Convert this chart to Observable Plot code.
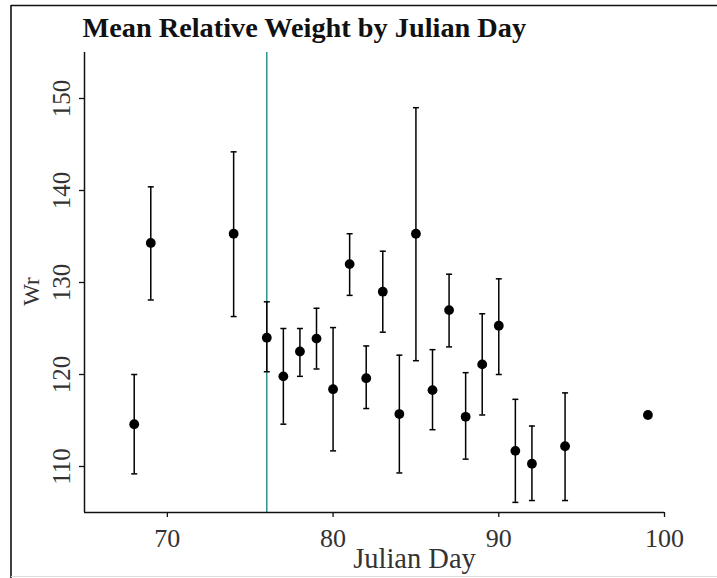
<!DOCTYPE html>
<html>
<head>
<meta charset="utf-8">
<script src="https://cdn.jsdelivr.net/npm/d3@7"></script>
<script src="https://cdn.jsdelivr.net/npm/@observablehq/plot@0.6"></script>
<style>
  html, body { margin: 0; padding: 0; background: #fff; }
  #chart svg { display: block; }
</style>
</head>
<body>
<div id="chart"></div>
<script>
// ---- data ----
const days  = [68, 69, 74, 76, 77, 78, 79, 80, 81, 82, 83, 84, 85, 86, 87, 88, 89, 90, 91, 92, 94, 99];
const means = [114.6, 134.3, 135.3, 124.0, 119.8, 122.5, 123.9, 118.4, 132.0, 119.6, 129.0, 115.7, 135.3, 118.3, 127.0, 115.4, 121.1, 125.3, 111.7, 110.3, 112.2, 115.6];
const lows  = [109.2, 128.1, 126.3, 120.3, 114.6, 119.8, 120.6, 111.7, 128.6, 116.3, 124.6, 109.3, 121.5, 114.0, 123.0, 110.8, 115.6, 120.0, 106.1, 106.3, 106.3, null];
const highs = [120.0, 140.4, 144.2, 127.9, 125.0, 125.0, 127.2, 125.1, 135.3, 123.1, 133.4, 122.1, 149.0, 122.7, 130.9, 120.2, 126.6, 130.4, 117.3, 114.4, 118.0, null];
const refDay = [76];
const xTicks = [70, 80, 90, 100];
const yTicks = [110, 120, 130, 140, 150];
const xDomain = [65, 100];
const yDomain = [105, 155];
const titleText = "Mean Relative Weight by Julian Day";
const xLabel = "Julian Day";
const yLabel = "Wr";

const rows = days.map((d, i) => ({day: d, mean: means[i], lo: lows[i], hi: highs[i]}));
const withErr = rows.filter(r => r.lo != null && r.hi != null);

const serif = "'Liberation Serif', 'Times New Roman', serif";
const capSymbol = {draw(ctx) { ctx.moveTo(-3, 0); ctx.lineTo(3, 0); }};

const plot = Plot.plot({
  width: 717,
  height: 578,
  marginLeft: 84,
  marginRight: 53,
  marginTop: 52,
  marginBottom: 66,
  style: {fontFamily: serif, background: "#fff", color: "#222", overflow: "visible"},
  x: {domain: xDomain},
  y: {domain: yDomain},
  marks: [
    // reference line
    Plot.ruleX(refDay, {x: d => d, y1: yDomain[0], y2: yDomain[1], stroke: "#1f8c8c", strokeWidth: 1.4}),
    // axis lines (L box)
    Plot.ruleX([xDomain[0]], {x: d => d, y1: yDomain[0], y2: yDomain[1], stroke: "#111", strokeWidth: 1.5}),
    Plot.ruleY([yDomain[0]], {y: d => d, x1: xDomain[0], x2: xDomain[1], stroke: "#111", strokeWidth: 1.5}),
    Plot.axisX({ticks: xTicks, tickSize: 5, tickPadding: 11, fontSize: 26, label: null, stroke: "#111", strokeWidth: 1.3, fill: "#333"}),
    Plot.axisY({ticks: yTicks, tickSize: 5, tickPadding: 10, tickRotate: -90, fontSize: 25, label: null, stroke: "#111", strokeWidth: 1.3, fill: "#333"}),
    // error bars
    Plot.ruleX(withErr, {x: "day", y1: "lo", y2: "hi", stroke: "#000", strokeWidth: 1.5}),
    Plot.dot(withErr, {x: "day", y: "hi", symbol: capSymbol, stroke: "#000", strokeWidth: 1.5, fill: "none"}),
    Plot.dot(withErr, {x: "day", y: "lo", symbol: capSymbol, stroke: "#000", strokeWidth: 1.5, fill: "none"}),
    // means
    Plot.dot(rows, {x: "day", y: "mean", r: 4.9, fill: "#000", stroke: null}),
    // title
    Plot.text([titleText], {frameAnchor: "top-left", text: d => d, dx: -2, dy: -16, lineAnchor: "bottom", textAnchor: "start", fontSize: 28.3, fontWeight: "bold", fill: "#111"}),
    // axis labels
    Plot.text([xLabel], {frameAnchor: "bottom", text: d => d, dx: 40, dy: 55, lineAnchor: "bottom", textAnchor: "middle", fontSize: 28.5, fill: "#333"}),
    Plot.text([yLabel], {frameAnchor: "left", text: d => d, dx: -46, dy: 9, rotate: -90, lineAnchor: "bottom", textAnchor: "middle", fontSize: 23, fill: "#333"})
  ]
});

document.getElementById("chart").appendChild(plot);

// picture frame borders seen in the reference image
const svg = d3.select(plot);
svg.append("line").attr("x1", 11).attr("x2", 11).attr("y1", 5).attr("y2", 578).attr("stroke", "#111").attr("stroke-width", 1.6);
svg.append("line").attr("x1", 11).attr("x2", 717).attr("y1", 5.5).attr("y2", 5.5).attr("stroke", "#111").attr("stroke-width", 1.6);
svg.append("line").attr("x1", 11).attr("x2", 717).attr("y1", 576.5).attr("y2", 576.5).attr("stroke", "#ddd").attr("stroke-width", 1);
</script>
</body>
</html>
